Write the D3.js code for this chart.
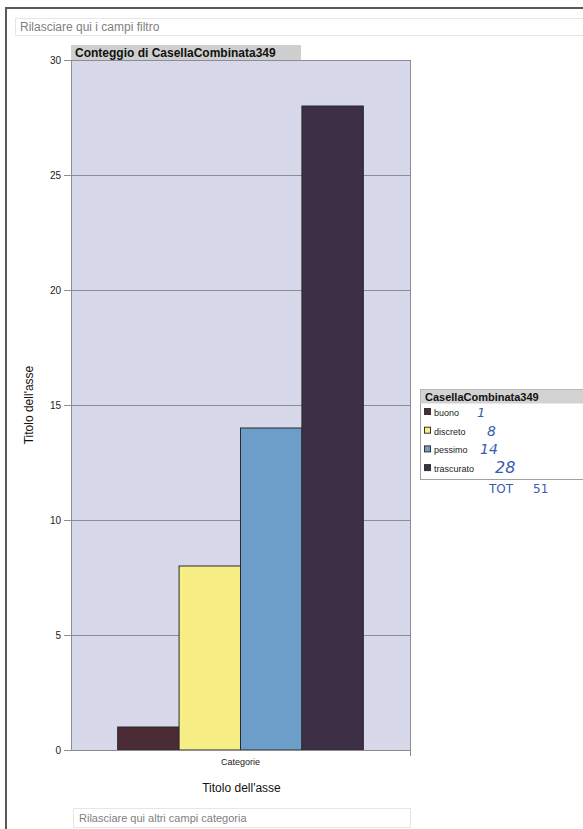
<!DOCTYPE html>
<html>
<head>
<meta charset="utf-8">
<script src="https://cdn.jsdelivr.net/npm/d3@7"></script>
<style>
  html, body { margin: 0; padding: 0; background: #fff; }
  svg { display: block; font-family: "Liberation Sans", Arial, sans-serif; }
</style>
</head>
<body>
<svg id="chart" width="583" height="829"></svg>
<script>
// Series of the pivot chart (one category, four series)
const categories = ["Categorie"];
const seriesNames = ["buono", "discreto", "pessimo", "trascurato"];
const seriesValues = [1, 8, 14, 28];
const seriesColors = ["#4b2b36", "#f7ee86", "#6d9dc9", "#3d3046"];
const yTicks = [0, 5, 10, 15, 20, 25, 30];
const handNotes = ["1", "8", "14", "28"];
const totalNote = ["TOT", "51"];

const svg = d3.select("#chart");

// Page frame
svg.append("rect").attr("x", 6).attr("y", 8).attr("width", 640).attr("height", 900)
  .attr("fill", "none").attr("stroke", "#5a5a5a").attr("stroke-width", 2);

// Filter drop zone
svg.append("rect").attr("x", 15.5).attr("y", 18.5).attr("width", 580).attr("height", 17)
  .attr("fill", "#fff").attr("stroke", "#e6e6e6");
svg.append("text").attr("x", 20).attr("y", 31).attr("font-size", 12).attr("fill", "#808080")
  .text("Rilasciare qui i campi filtro");

// Plot area
const plot = { left: 71, right: 410, top: 60, bottom: 750 };
const y = d3.scaleLinear().domain([0, 30]).range([plot.bottom, plot.top]);
const x0 = d3.scaleBand().domain(categories).range([plot.left, plot.right]).paddingInner(0).paddingOuter(0.19);
const x1 = d3.scaleBand().domain(seriesNames).range([0, x0.bandwidth()]);

svg.append("rect").attr("x", plot.left).attr("y", plot.top)
  .attr("width", plot.right - plot.left).attr("height", plot.bottom - plot.top)
  .attr("fill", "#d8d8eb");

// Gridlines
svg.append("g").selectAll("line").data(yTicks.filter(d => d > 0)).join("line")
  .attr("x1", plot.left).attr("x2", plot.right)
  .attr("y1", d => Math.round(y(d)) + 0.5).attr("y2", d => Math.round(y(d)) + 0.5)
  .attr("stroke", "#8c8c96").attr("stroke-width", 1);

// Bars
svg.append("g").selectAll("rect").data(seriesValues).join("rect")
  .attr("x", (d, i) => x0(categories[0]) + x1(seriesNames[i]))
  .attr("y", d => y(d))
  .attr("width", x1.bandwidth())
  .attr("height", d => plot.bottom - y(d))
  .attr("fill", (d, i) => seriesColors[i])
  .attr("stroke", "#2a2a2a").attr("stroke-width", 1);

// Right border of plot area
svg.append("line").attr("x1", plot.right + 0.5).attr("x2", plot.right + 0.5)
  .attr("y1", plot.top).attr("y2", plot.bottom + 6).attr("stroke", "#8c8c8c");

// Y axis
const yAxis = svg.append("g").attr("transform", `translate(${plot.left},0)`)
  .call(d3.axisLeft(y).tickValues(yTicks).tickSize(7).tickPadding(3).tickFormat(d3.format("d")));
yAxis.select(".domain").attr("stroke", "#8c8c8c");
yAxis.selectAll(".tick line").attr("stroke", "#8c8c8c");
yAxis.selectAll(".tick text").attr("font-size", 10).attr("fill", "#222")
  .attr("font-family", "Liberation Sans, Arial, sans-serif");

// X axis
const xAxis = svg.append("g").attr("transform", `translate(0,${plot.bottom})`)
  .call(d3.axisBottom(x0).tickSize(0).tickPadding(9));
xAxis.select(".domain").attr("stroke", "#8c8c8c");
xAxis.selectAll(".tick text").attr("font-size", 9).attr("fill", "#222")
  .attr("font-family", "Liberation Sans, Arial, sans-serif");

// Chart title button
svg.append("rect").attr("x", plot.left).attr("y", 45).attr("width", 230).attr("height", 15)
  .attr("fill", "#cfcfcf");
svg.append("text").attr("x", plot.left + 4).attr("y", 57).attr("font-size", 12)
  .attr("font-weight", "bold").attr("fill", "#111").text("Conteggio di CasellaCombinata349");

// Axis titles
svg.append("text").attr("x", (plot.left + plot.right) / 2 + 1).attr("y", 792)
  .attr("text-anchor", "middle").attr("font-size", 12).attr("fill", "#111").text("Titolo dell'asse");
svg.append("text").attr("transform", "translate(33,405) rotate(-90)")
  .attr("text-anchor", "middle").attr("font-size", 12).attr("fill", "#111").text("Titolo dell'asse");

// Category drop zone
svg.append("rect").attr("x", 73.5).attr("y", 808.5).attr("width", 337).attr("height", 19)
  .attr("fill", "#fff").attr("stroke", "#e6e6e6");
svg.append("text").attr("x", 79).attr("y", 822).attr("font-size", 11).attr("fill", "#808080")
  .text("Rilasciare qui altri campi categoria");

// Legend
const lg = svg.append("g").attr("transform", "translate(420,389)");
lg.append("rect").attr("x", 0.5).attr("y", 0.5).attr("width", 175).attr("height", 90)
  .attr("fill", "#fff").attr("stroke", "#a0a0a0");
lg.append("rect").attr("x", 0.5).attr("y", 0.5).attr("width", 175).attr("height", 14)
  .attr("fill", "#d2d2d2");
lg.append("text").attr("x", 5).attr("y", 12).attr("font-size", 11).attr("font-weight", "bold")
  .attr("fill", "#111").text("CasellaCombinata349");
const items = lg.selectAll("g.item").data(seriesNames).join("g").attr("class", "item")
  .attr("transform", (d, i) => `translate(0,${24 + i * 18.7})`);
items.append("rect").attr("x", 4.5).attr("y", -4.5).attr("width", 6).attr("height", 6)
  .attr("fill", (d, i) => seriesColors[i]).attr("stroke", "#333").attr("stroke-width", 1);
items.append("text").attr("x", 14).attr("y", 3).attr("font-size", 9).attr("fill", "#222").text(d => d);

// Handwritten counts next to the legend entries
const noteX = [57, 67, 60, 75];
const noteSize = [13, 14, 14, 16];
items.append("text").attr("x", (d, i) => noteX[i]).attr("y", 4)
  .attr("font-size", (d, i) => noteSize[i]).attr("font-style", "italic").attr("fill", "#3a5cb0")
  .attr("font-family", "DejaVu Sans, sans-serif").text((d, i) => handNotes[i]);
lg.selectAll("text.tot").data(totalNote).join("text").attr("class", "tot")
  .attr("x", (d, i) => i === 0 ? 69 : 113).attr("y", 104).attr("font-size", 12)
  .attr("fill", "#3a5cb0").attr("font-family", "DejaVu Sans, sans-serif").text(d => d);
</script>
</body>
</html>
